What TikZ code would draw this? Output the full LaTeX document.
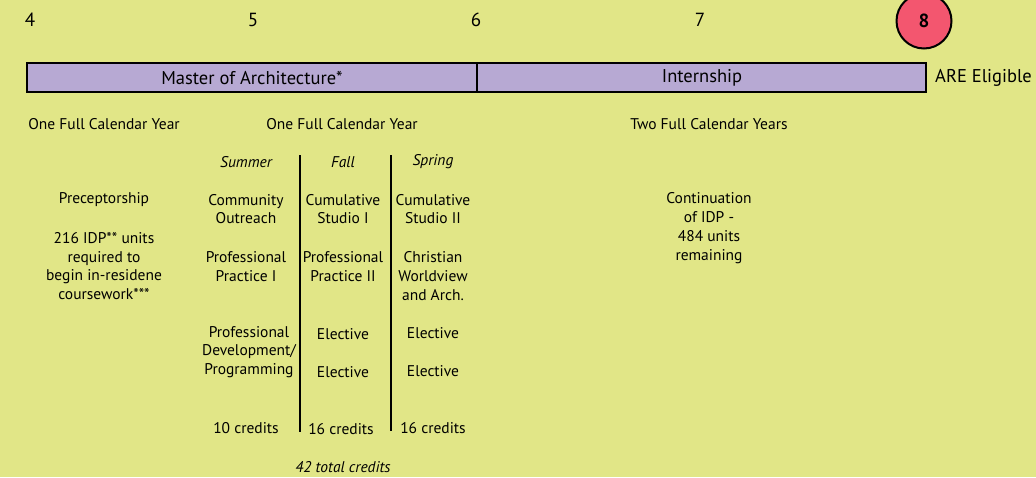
\documentclass[tikz,border=0pt]{standalone}
\usepackage{fontspec}
\setmainfont{PT Sans}
\definecolor{bgyellow}{HTML}{E1E687}
\definecolor{barlilac}{HTML}{B7A9D3}
\definecolor{dotred}{HTML}{F3566F}
\tikzset{
  txt/.style={align=center,font=\fontsize{15.5}{18.8}\selectfont,inner sep=0pt},
  sem/.style={txt,font=\fontsize{15.5}{18.8}\selectfont\itshape},
  big/.style={txt,font=\fontsize{18.5}{20}\selectfont},
  num/.style={txt,font=\fontsize{19}{20}\selectfont},
  bar/.style={draw=black,line width=2.4pt,fill=barlilac}
}
\begin{document}
\begin{tikzpicture}[x=1pt,y=-1pt]
    \fill[bgyellow] (0,0) rectangle (1036,477);
    \useasboundingbox (0,0) rectangle (1036,477);
    % years
    \node[num] (y4) at (30,20) {4};
    \node[num] (y5) at (253,20) {5};
    \node[num] (y6) at (476,20) {6};
    \node[num] (y7) at (700,20) {7};
    \draw[fill=dotred,line width=2pt] (924,21) circle (27.5);
    \node[num] (y8) at (924,21) {\bfseries 8};
    % bars
    \draw[bar] (27,63) rectangle (477,92);
    \draw[bar] (477,63) rectangle (926,92);
    \node[big] (march) at (252,77.5) {Master of Architecture*};
    \node[big] (intern) at (702,77.5) {Internship};
    \node[big,anchor=west] (are) at (935,77.5) {ARE Eligible};
    % periods
    \node[txt] (per1) at (104,124) {One Full Calendar Year};
    \node[txt] (per2) at (342,124) {One Full Calendar Year};
    \node[txt] (per3) at (709,124) {Two Full Calendar Years};
    \node[sem] (summer) at (246,162) {Summer};
    \node[sem] (fall) at (343,162) {Fall};
    \node[sem] (spring) at (433,162) {Spring};
    \draw[line width=1.5pt] (300,155) -- (300,432);
    \draw[line width=1.5pt] (391,155) -- (391,431);
    % preceptorship
    \node[txt] (precept) at (104,200) {Preceptorship};
    \node[txt] (idp) at (104,266) {216 IDP** units\\required to\\begin in-residene\\coursework***};
    % summer
    \node[txt] (outreach) at (246,209) {Community\\Outreach};
    \node[txt] (pp1) at (246,266.5) {Professional\\Practice I};
    \node[txt] (pdev) at (249,352) {Professional\\Development/\\Programming};
    \node[txt] (cr1) at (246,428) {10 credits};
    % fall
    \node[txt] (cs1) at (343,209) {Cumulative\\Studio I};
    \node[txt] (pp2) at (343,266.5) {Professional\\Practice II};
    \node[txt] (el1) at (343,334) {Elective};
    \node[txt] (el2) at (343,372) {Elective};
    \node[txt] (cr2) at (341,429) {16 credits};
    % spring
    \node[txt] (cs2) at (433,209) {Cumulative\\Studio II};
    \node[txt] (cwv) at (433,276) {Christian\\Worldview\\and Arch.};
    \node[txt] (el3) at (433,333) {Elective};
    \node[txt] (el4) at (433,371) {Elective};
    \node[txt] (cr3) at (433,428) {16 credits};
    \node[sem] (total) at (343,467) {42 total credits};
    % internship
    \node[txt] (contin) at (709,228) {Continuation\\of IDP -\\484 units\\remaining};
\end{tikzpicture}
\end{document}
